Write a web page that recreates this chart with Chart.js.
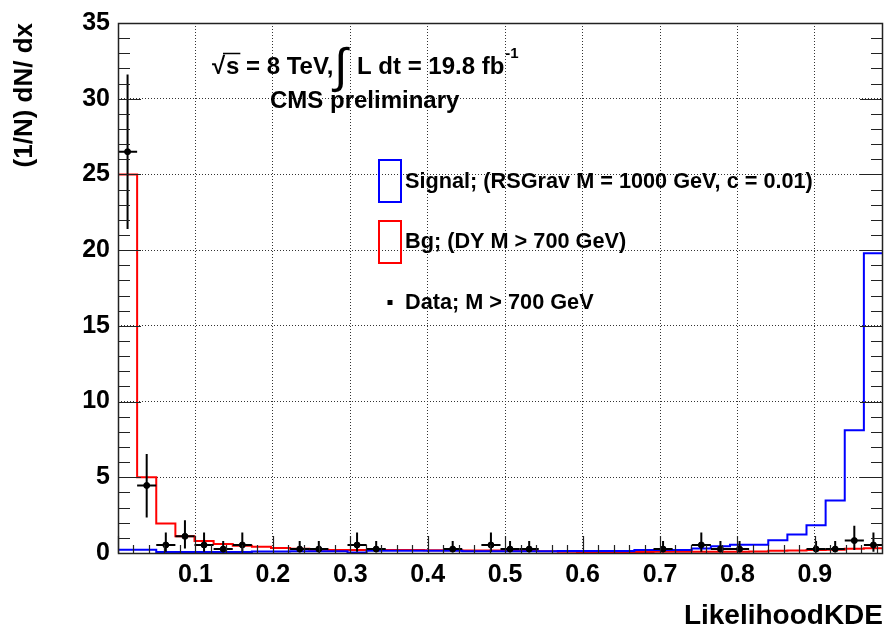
<!DOCTYPE html>
<html>
<head>
<meta charset="utf-8">
<script src="https://cdn.jsdelivr.net/npm/chart.js@4.4.0/dist/chart.umd.min.js"></script>
<style>
  html, body { margin: 0; padding: 0; background: #fff; overflow: hidden; }
  canvas { display: block; }
</style>
</head>
<body>
<canvas id="c" width="888" height="630"></canvas>
<script>
const FONT = '"Liberation Sans", Arial, Helvetica, sans-serif';

// Histogram binning of LikelihoodKDE
const xRange = [0, 0.988];
const nBins = 40;

// Normalised distributions (1/N dN/dx) per bin
const signalDensity = [
  0.22, 0.22, 0.07, 0.07, 0.07, 0.07, 0.07, 0.10, 0.10, 0.12,
  0.12, 0.12, 0.04, 0.15, 0.15, 0.15, 0.15, 0.15, 0.11, 0.11,
  0.11, 0.11, 0.11, 0.14, 0.14, 0.14, 0.14, 0.20, 0.20, 0.20,
  0.30, 0.44, 0.55, 0.55, 0.85, 1.22, 1.84, 3.47, 8.10, 19.8
];
const backgroundDensity = [
  25.0, 5.00, 1.95, 1.10, 0.80, 0.60, 0.48, 0.42, 0.33, 0.28,
  0.22, 0.20, 0.20, 0.20, 0.19, 0.19, 0.18, 0.18, 0.17, 0.16,
  0.15, 0.14, 0.12, 0.08, 0.07, 0.07, 0.07, 0.07, 0.08, 0.09,
  0.08, 0.08, 0.09, 0.10, 0.15, 0.17, 0.19, 0.22, 0.28, 0.32
];

// Data: occupied bins, value and error-bar bounds
const dataBins = [0, 1, 2, 3, 4, 5, 6, 9, 10, 12, 13, 17, 19, 20, 21, 28, 30, 31, 32, 36, 37, 38, 39];
const dataValues = [26.5, 4.46, 0.53, 1.10, 0.53, 0.26, 0.53, 0.26, 0.26, 0.53, 0.26, 0.26, 0.53, 0.26, 0.26, 0.26, 0.53, 0.26, 0.26, 0.26, 0.26, 0.82, 0.53];
const dataLow = [21.4, 2.35, 0.09, 0.30, 0.09, 0.05, 0.09, 0.05, 0.05, 0.09, 0.05, 0.05, 0.09, 0.05, 0.05, 0.05, 0.09, 0.05, 0.05, 0.05, 0.05, 0.20, 0.09];
const dataHigh = [31.6, 6.54, 1.35, 2.16, 1.35, 0.80, 1.35, 0.80, 0.80, 1.35, 0.80, 0.80, 1.35, 0.80, 0.80, 0.80, 1.35, 0.80, 0.80, 0.80, 0.80, 1.80, 1.35];

// Axis ticks
const xTickValues = [0.1, 0.2, 0.3, 0.4, 0.5, 0.6, 0.7, 0.8, 0.9];
const yTickValues = [0, 5, 10, 15, 20, 25, 30, 35];
const xMinorStep = 0.02;
const yMinorStep = 1;

const binWidth = (xRange[1] - xRange[0]) / nBins;

function histPoints(values) {
  const pts = values.map((v, i) => ({ x: xRange[0] + i * binWidth, y: v }));
  pts.push({ x: xRange[1], y: values[values.length - 1] });
  return pts;
}
const dataPoints = dataBins.map((b, i) => ({
  x: xRange[0] + (b + 0.5) * binWidth,
  y: dataValues[i],
  lo: dataLow[i],
  hi: dataHigh[i]
}));

// Error bars: full bin width horizontally, asymmetric vertically
const errorBarPlugin = {
  id: 'errorBars',
  afterDatasetsDraw(chart) {
    const { ctx, scales: { x, y } } = chart;
    ctx.save();
    ctx.strokeStyle = '#000';
    ctx.lineWidth = 2;
    dataPoints.forEach(p => {
      const px = x.getPixelForValue(p.x);
      const py = y.getPixelForValue(p.y);
      ctx.beginPath();
      ctx.moveTo(x.getPixelForValue(p.x - binWidth / 2), py);
      ctx.lineTo(x.getPixelForValue(p.x + binWidth / 2), py);
      ctx.moveTo(px, y.getPixelForValue(p.lo));
      ctx.lineTo(px, y.getPixelForValue(p.hi));
      ctx.stroke();
    });
    ctx.restore();
  }
};

// Frame with inward major/minor ticks
const framePlugin = {
  id: 'frame',
  afterDraw(chart) {
    const { ctx, chartArea: a, scales: { x, y } } = chart;
    ctx.save();
    ctx.strokeStyle = '#222';
    ctx.lineWidth = 1.2;
    ctx.beginPath();
    for (let v = 0; v <= 35 + 1e-9; v += yMinorStep) {
      const py = Math.round(y.getPixelForValue(v)) + 0.5;
      const len = (Math.round(v) % 5 === 0) ? 23 : 12;
      ctx.moveTo(a.left, py); ctx.lineTo(a.left + len, py);
      ctx.moveTo(a.right, py); ctx.lineTo(a.right - len, py);
    }
    for (let k = 0; k * xMinorStep <= xRange[1] + 1e-9; k++) {
      const v = k * xMinorStep;
      const px = Math.round(x.getPixelForValue(v)) + 0.5;
      const len = (k % 5 === 0) ? 17 : 8;
      ctx.moveTo(px, a.bottom); ctx.lineTo(px, a.bottom - len);
    }
    ctx.stroke();
    ctx.lineWidth = 1.5;
    ctx.strokeRect(a.left + 0.5, a.top + 0.5, a.right - a.left - 1, a.bottom - a.top);
    ctx.restore();
  }
};

// Energy / luminosity label and legend
const labelPlugin = {
  id: 'labels',
  afterDraw(chart) {
    const ctx = chart.ctx;
    ctx.save();
    ctx.fillStyle = '#000';
    ctx.textBaseline = 'alphabetic';

    // √s = 8 TeV, ∫ L dt = 19.8 fb^-1
    const base = 74;
    ctx.font = `bold 24px ${FONT}`;
    ctx.fillText('\u221A', 212, base);
    ctx.fillText('s', 226, base);
    const sW = ctx.measureText('s').width;
    ctx.strokeStyle = '#000';
    ctx.lineWidth = 1.5;
    ctx.beginPath();
    ctx.moveTo(223, 53.5); ctx.lineTo(226 + sW + 1, 53.5);
    ctx.stroke();
    ctx.fillText(' = 8 TeV,', 226 + sW, base);
    ctx.font = `48px ${FONT}`;
    ctx.fillText('\u222B', 334, 82);
    ctx.font = `bold 24px ${FONT}`;
    ctx.fillText('L dt = 19.8 fb', 357, base);
    const fbW = ctx.measureText('L dt = 19.8 fb').width;
    ctx.font = `bold 15px ${FONT}`;
    ctx.fillText('-1', 357 + fbW + 1, 58);
    ctx.font = `bold 24px ${FONT}`;
    ctx.fillText('CMS preliminary', 270, 108);

    // Legend
    ctx.lineWidth = 2;
    ctx.strokeStyle = '#0000ff';
    ctx.strokeRect(379, 160, 22, 42);
    ctx.strokeStyle = '#ff0000';
    ctx.strokeRect(379, 221, 22, 42);
    ctx.fillStyle = '#000';
    ctx.fillRect(387.5, 300, 5, 5);
    ctx.font = `bold 21.7px ${FONT}`;
    ctx.textBaseline = 'middle';
    ctx.fillText('Signal; (RSGrav M = 1000 GeV, c = 0.01)', 405, 182);
    ctx.fillText('Bg; (DY M > 700 GeV)', 405, 242);
    ctx.fillText('Data; M > 700 GeV', 405, 303);
    ctx.restore();
  }
};

const tickFont = { family: FONT, size: 25, weight: 'bold' };

new Chart(document.getElementById('c'), {
  type: 'scatter',
  data: {
    datasets: [
      {
        label: 'Data; M > 700 GeV',
        data: dataPoints,
        pointStyle: 'circle',
        pointRadius: 3,
        pointBackgroundColor: '#000',
        pointBorderColor: '#000',
        showLine: false
      },
      {
        label: 'Signal; (RSGrav M = 1000 GeV, c = 0.01)',
        data: histPoints(signalDensity),
        showLine: true,
        stepped: true,
        borderColor: '#0000ff',
        borderWidth: 2,
        pointRadius: 0,
        fill: false
      },
      {
        label: 'Bg; (DY M > 700 GeV)',
        data: histPoints(backgroundDensity),
        showLine: true,
        stepped: true,
        borderColor: '#ff0000',
        borderWidth: 2,
        pointRadius: 0,
        fill: false
      }
    ]
  },
  options: {
    responsive: false,
    animation: false,
    devicePixelRatio: 1,
    layout: { padding: { left: 0, right: 2, top: 19, bottom: 0 } },
    plugins: { legend: { display: false }, tooltip: { enabled: false } },
    scales: {
      x: {
        type: 'linear',
        min: xRange[0],
        max: xRange[1],
        afterFit(s) { s.height = 77; },
        afterBuildTicks(s) { s.ticks = xTickValues.map(v => ({ value: v })); },
        ticks: {
          callback: v => v.toFixed(1),
          font: tickFont,
          color: '#000',
          padding: 7,
          maxRotation: 0,
          autoSkip: false
        },
        grid: { color: '#333', lineWidth: 1, drawTicks: false },
        border: { display: false, dash: [1, 2] },
        title: {
          display: true,
          text: 'LikelihoodKDE',
          align: 'end',
          color: '#000',
          font: { family: FONT, size: 28, weight: 'bold', lineHeight: 1 },
          padding: { top: 0, bottom: 0 }
        }
      },
      y: {
        min: 0,
        max: 35,
        afterFit(s) { s.width = 118; },
        afterBuildTicks(s) { s.ticks = yTickValues.map(v => ({ value: v })); },
        ticks: {
          callback: v => String(v),
          font: tickFont,
          color: '#000',
          padding: 8
        },
        grid: { color: '#333', lineWidth: 1, drawTicks: false },
        border: { display: false, dash: [1, 2] },
        title: {
          display: true,
          text: '(1/N) dN/ dx',
          align: 'end',
          color: '#000',
          font: { family: FONT, size: 26, weight: 'bold', lineHeight: 1 },
          padding: { top: 12, bottom: 0 }
        }
      }
    }
  },
  plugins: [errorBarPlugin, framePlugin, labelPlugin]
});
</script>
</body>
</html>
